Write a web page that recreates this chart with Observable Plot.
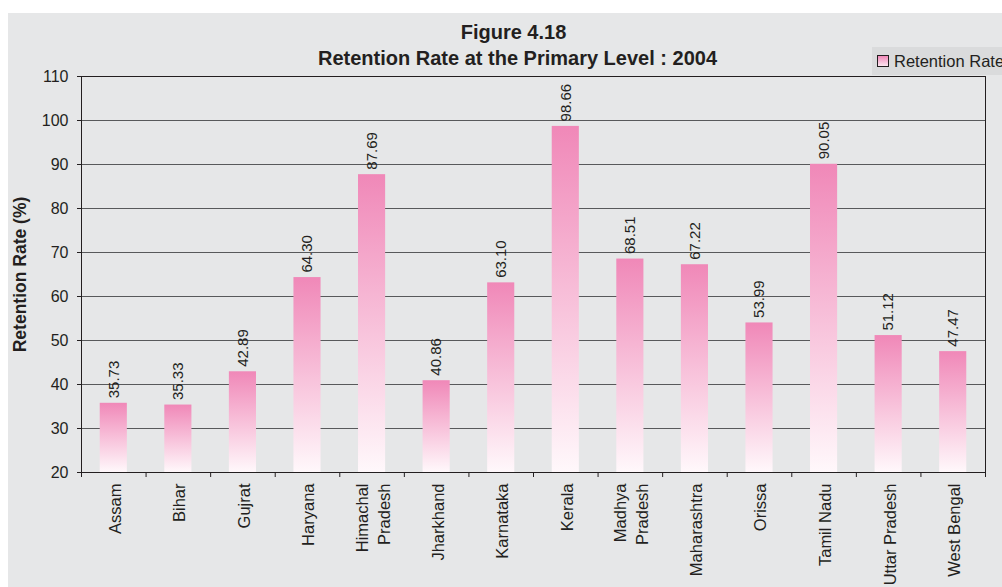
<!DOCTYPE html>
<html><head><meta charset="utf-8">
<script src="https://cdn.jsdelivr.net/npm/d3@7"></script>
<script src="https://cdn.jsdelivr.net/npm/@observablehq/plot@0.6"></script>
<style>
html,body{margin:0;padding:0;width:1002px;height:587px;overflow:hidden;background:#fff;font-family:"Liberation Sans",Arial,sans-serif;}
#bg{position:absolute;left:8px;top:13px;right:0;bottom:0;background:#e6e7e8;}
#chart{position:absolute;left:0;top:0;}
#legend{position:absolute;left:872px;top:47px;width:170px;height:28px;background:#dadbdc;display:flex;align-items:center;white-space:nowrap;font-size:16.5px;color:#231f20;}
#legend .sw{width:10px;height:10px;border:1px solid #231f20;margin:0 5px 0 5px;background:linear-gradient(#f088b8,#fce6f0);}
</style>
</head>
<body>
<div id="bg"></div>
<div id="chart"></div>
<div id="legend"><span class="sw"></span><span>Retention Rate</span></div>
<script>
const states = ["Assam","Bihar","Gujrat","Haryana","Himachal Pradesh","Jharkhand","Karnataka","Kerala","Madhya Pradesh","Maharashtra","Orissa","Tamil Nadu","Uttar Pradesh","West Bengal"];
const stateLabels = ["Assam","Bihar","Gujrat","Haryana","Himachal\nPradesh","Jharkhand","Karnataka","Kerala","Madhya\nPradesh","Maharashtra","Orissa","Tamil Nadu","Uttar Pradesh","West Bengal"];
const retention = [35.73,35.33,42.89,64.30,87.69,40.86,63.10,98.66,68.51,67.22,53.99,90.05,51.12,47.47];
const yTicks = [20,30,40,50,60,70,80,90,100,110];
const titleLines = ["Figure 4.18","Retention Rate at the Primary Level : 2004"];
const yTitle = "Retention Rate (%)";

const data = states.map((s,i)=>({state:s,label:stateLabels[i],value:retention[i]}));
const fmt = d3.format(".2f");
const W=1002,H=587,ML=81,MR=17,MT=76,MB=115;
const step=(W-ML-MR)/states.length;
const pxPerUnit=(H-MT-MB)/(yTicks[yTicks.length-1]-yTicks[0]);
const tickEnd = 20 - 5/pxPerUnit;
const ink="#231f20";

const plot = Plot.plot({
  width:W,height:H,marginLeft:ML,marginRight:MR,marginTop:MT,marginBottom:MB,
  style:{background:"transparent",fontFamily:'"Liberation Sans",Arial,sans-serif',color:ink,fontSize:"15px",overflow:"visible"},
  x:{domain:states,paddingInner:0.58,paddingOuter:0.29,round:false,axis:null},
  y:{domain:[20,110],axis:null},
  marks:[
    Plot.ruleY(yTicks,{stroke:"#58595b",strokeWidth:1}),
    Plot.barY(data,{x:"state",y1:20,y2:"value",fill:"url(#retGrad)"}),
    Plot.frame({stroke:ink}),
    Plot.axisY({ticks:yTicks,tickSize:4,tickPadding:9,fontSize:16,label:null,stroke:ink,fill:ink}),
    Plot.ruleX(states,{x:d=>d,y1:20,y2:tickEnd,dx:-step/2,stroke:ink}),
    Plot.ruleX([states[states.length-1]],{x:d=>d,y1:20,y2:tickEnd,dx:step/2,stroke:ink}),
    Plot.text(data,{x:"state",y:"value",text:d=>fmt(d.value),rotate:-90,textAnchor:"start",lineAnchor:"middle",dy:-5,fontSize:15,fill:ink}),
    Plot.text(data,{x:"state",text:"label",frameAnchor:"bottom",rotate:-90,textAnchor:"end",lineAnchor:"middle",dy:11,fontSize:16.5,lineHeight:1.3,fill:ink}),
    Plot.text([titleLines[0]],{frameAnchor:"top",lineAnchor:"middle",dx:-20,dy:-44,fontWeight:"bold",fontSize:20,fill:ink}),
    Plot.text([titleLines[1]],{frameAnchor:"top",lineAnchor:"middle",dx:-16,dy:-18,fontWeight:"bold",fontSize:20,fill:ink}),
    Plot.text([yTitle],{frameAnchor:"left",rotate:-90,textAnchor:"middle",lineAnchor:"middle",dx:-61,fontWeight:"bold",fontSize:17.5,fill:ink})
  ]
});
const defs = d3.select(plot).insert("defs",":first-child");
const g = defs.append("linearGradient").attr("id","retGrad").attr("x1",0).attr("y1",0).attr("x2",0).attr("y2",1);
g.append("stop").attr("offset","0%").attr("stop-color","#f088b8");
g.append("stop").attr("offset","100%").attr("stop-color","#fff8fb");
document.getElementById("chart").appendChild(plot);
</script>
</body></html>
